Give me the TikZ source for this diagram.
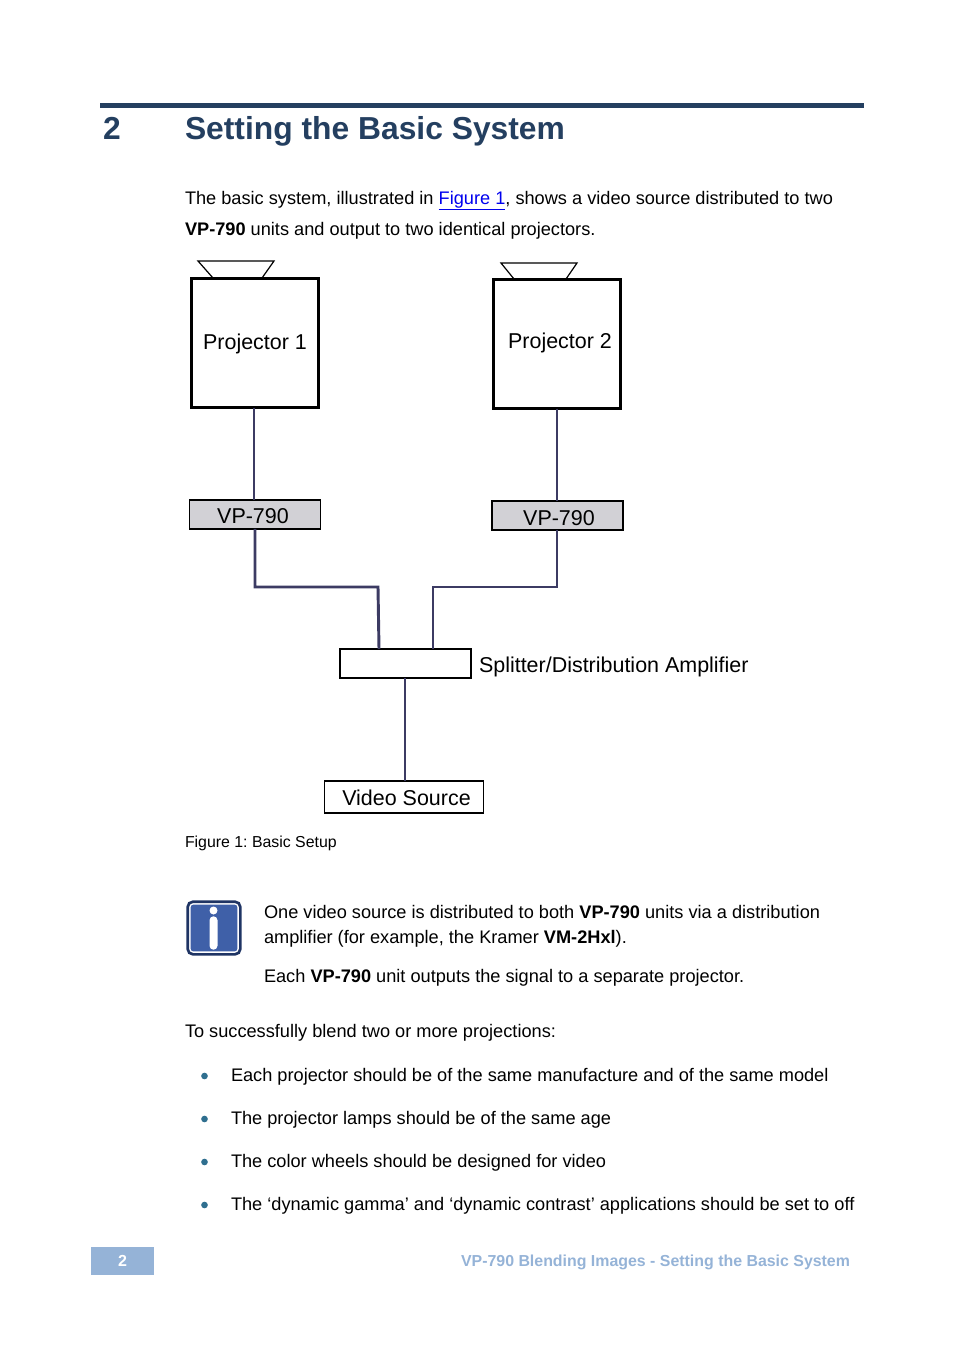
\documentclass[tikz,border=0pt]{standalone}
\usepackage{fontspec}
\setmainfont{Liberation Sans}
\frenchspacing
\definecolor{headblue}{HTML}{243F60}
\definecolor{wireblue}{HTML}{3C3B63}
\definecolor{unitgrey}{HTML}{D2D1D6}
\definecolor{footblue}{HTML}{95B3D7}
\definecolor{iconblue}{HTML}{3F60A8}
\definecolor{iconnavy}{HTML}{1F3464}
\definecolor{bulletblue}{HTML}{2F6F8F}
\definecolor{linkblue}{HTML}{0000EE}
\begin{document}
\begin{tikzpicture}[x=0.75pt,y=-0.75pt,
		every node/.style = {inner sep=0pt, outer sep=0pt},
		para/.style = {anchor=base west, font=\fontsize{13.64}{16}\selectfont},
		label/.style = {font=\fontsize{16.1}{19}\selectfont},
		projbox/.style = {draw, line width=2pt, fill=white, minimum width=95.5pt, minimum height=97pt},
		unitbox/.style = {draw, line width=1.2pt, fill=unitgrey, minimum width=98pt, minimum height=21.5pt},
		plainbox/.style = {draw, line width=1.2pt, fill=white},
		lens/.style = {draw, line width=0.9pt, fill=white},
		wire/.style = {draw=wireblue, line width=2.2pt},
		dot/.style = {circle, fill=bulletblue, minimum size=5pt}]
		\useasboundingbox (0,0) rectangle (954,1354);
		% heading
		\fill[headblue] (100,103) rectangle (864,108);
		\node[anchor=base west, text=headblue, font=\fontsize{23.85}{28}\selectfont\bfseries] (num) at (103,139) {2};
		\node[anchor=base west, text=headblue, font=\fontsize{23.85}{28}\selectfont\bfseries] (title) at (185,139) {Setting the Basic System};
		\node[para] (intro1) at (185,204) {The basic system, illustrated in \textcolor{linkblue}{\underline{Figure 1}}, shows a video source distributed to two};
		\node[para] (intro2) at (185,235) {\textbf{VP-790} units and output to two identical projectors.};
		% projectors
		\draw[lens] (198,261) -- (274,261) -- (262,278) -- (213,278) -- cycle;
		\draw[lens] (501,263) -- (577,263) -- (566,279) -- (514,279) -- cycle;
		\node[projbox] (proj1) at (255,343) {};
		\node[projbox, line width=2.3pt] (proj2) at (557,344) {};
		\node[label] (proj1text) at (255,344) {Projector 1};
		\node[label] (proj2text) at (560,343) {Projector 2};
		\node[unitbox] (vp1) at (255,514.5) {};
		\node[unitbox] (vp2) at (557.5,515.5) {};
		\node[label] (vp1text) at (253,516) {VP-790};
		\node[label] (vp2text) at (559,518) {VP-790};
		\node[plainbox, minimum width=98pt, minimum height=21.5pt] (split) at (405.5,663.5) {};
		\node[label, anchor=base west] (splittext) at (479,672) {Splitter/Distribution Amplifier};
		\node[plainbox, minimum width=119pt, minimum height=24pt] (source) at (404,797) {};
		\node[label] (sourcetext) at (406.5,798) {Video Source};
		% connectors
		\coordinate (splitL) at (379,649);
		\coordinate (splitR) at (433,649);
		\draw[wire] (proj1.south -| 254,0) -- (vp1.north -| 254,0);
		\draw[wire] (proj2.south) -- (vp2.north -| proj2.south);
		\draw[wire] (vp1.south) -- (255,587) -- (378,587) -- (splitL);
		\draw[wire] (vp2.south -| proj2.south) |- (splitR |- 0,587) -- (splitR);
		\draw[wire] (split.south -| 405,0) -- (source.north -| 405,0);
		\node[anchor=base west, font=\fontsize{11.9}{15}\selectfont] (caption) at (185,847) {Figure 1: Basic Setup};
		% info icon
		\node[draw=iconnavy, line width=2pt, fill=white, rounded corners=4pt, minimum size=39.5pt] (iconout) at (214,928) {};
		\node[fill=iconblue, rounded corners=2pt, minimum size=35pt] (iconin) at (214,928) {};
		\node[circle, fill=white, minimum size=6pt] (icondot) at (213.5,910.5) {};
		\node[fill=white, rounded corners=2.9pt, minimum width=6pt, minimum height=25pt] (iconbar) at (213.5,933) {};
		\node[para] (note1) at (264,918) {One video source is distributed to both \textbf{VP-790} units via a distribution};
		\node[para] (note2) at (264,943) {amplifier (for example, the Kramer \textbf{VM-2Hxl}).};
		\node[para] (note3) at (264,982) {Each \textbf{VP-790} unit outputs the signal to a separate projector.};
		\node[para] (blend) at (185,1037) {To successfully blend two or more projections:};
		% bullets
		\foreach \y/\txt in {1081/Each projector should be of the same manufacture and of the same model,
				1124/The projector lamps should be of the same age,
				1167/The color wheels should be designed for video,
				1210/The ‘dynamic gamma’ and ‘dynamic contrast’ applications should be set to off} {
			\node[dot] at (204.5,\y-5) {};
			\node[para] at (231,\y) {\txt};
		}
		% footer
		\node[fill=footblue, minimum width=47.25pt, minimum height=21pt, text=white, font=\fontsize{12}{14}\selectfont\bfseries] (pagenum) at (122.5,1261) {2};
		\node[anchor=base east, text=footblue, font=\fontsize{11.93}{14}\selectfont\bfseries] (foot) at (850,1266) {VP-790 Blending Images - Setting the Basic System};
	\end{tikzpicture}
\end{document}
